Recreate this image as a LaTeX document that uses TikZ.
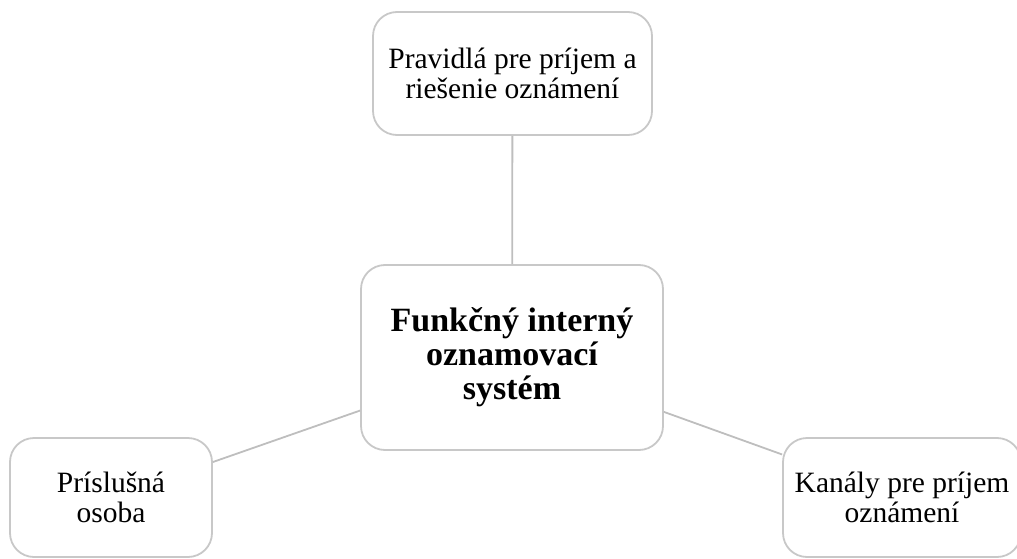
\documentclass[tikz,border=0pt]{standalone}
\usepackage{fontspec}
\setmainfont{Liberation Serif}
\usetikzlibrary{positioning}
\definecolor{boxgray}{RGB}{200,200,200}
\definecolor{linegray}{RGB}{190,190,190}
\tikzset{
  topic/.style={draw=boxgray, line width=1.8pt, rounded corners=24pt, fill=white,
    align=center, font=\fontsize{29.5}{30}\selectfont, inner sep=0pt},
  link/.style={draw=linegray, line width=1.8pt}
}
\begin{document}
\begin{tikzpicture}[x=1pt, y=-1pt]
  % rozmery obrazka
  \useasboundingbox (0,0) rectangle (1017,559);

  % stredny uzol
  \node[topic, minimum width=302pt, minimum height=185pt,
    font=\bfseries\fontsize{34}{34}\selectfont] (system) at (512,357.5)
    {Funkčný interný\\oznamovací\\systém};

  % okolite uzly
  \node[topic, minimum width=279pt, minimum height=123pt] (pravidla) at (512.5,73.5)
    {Pravidlá pre príjem a\\riešenie oznámení};
  \node[topic, minimum width=202pt, minimum height=119pt] (osoba) at (111,497.5)
    {Príslušná\\osoba};
  \node[topic, minimum width=238pt, minimum height=119pt] (kanaly) at (902,497.5)
    {Kanály pre príjem\\oznámení};

  % spojnice
  \foreach \n in {pravidla, osoba, kanaly}
    \draw[link] (system) -- (\n);
\end{tikzpicture}
\end{document}
